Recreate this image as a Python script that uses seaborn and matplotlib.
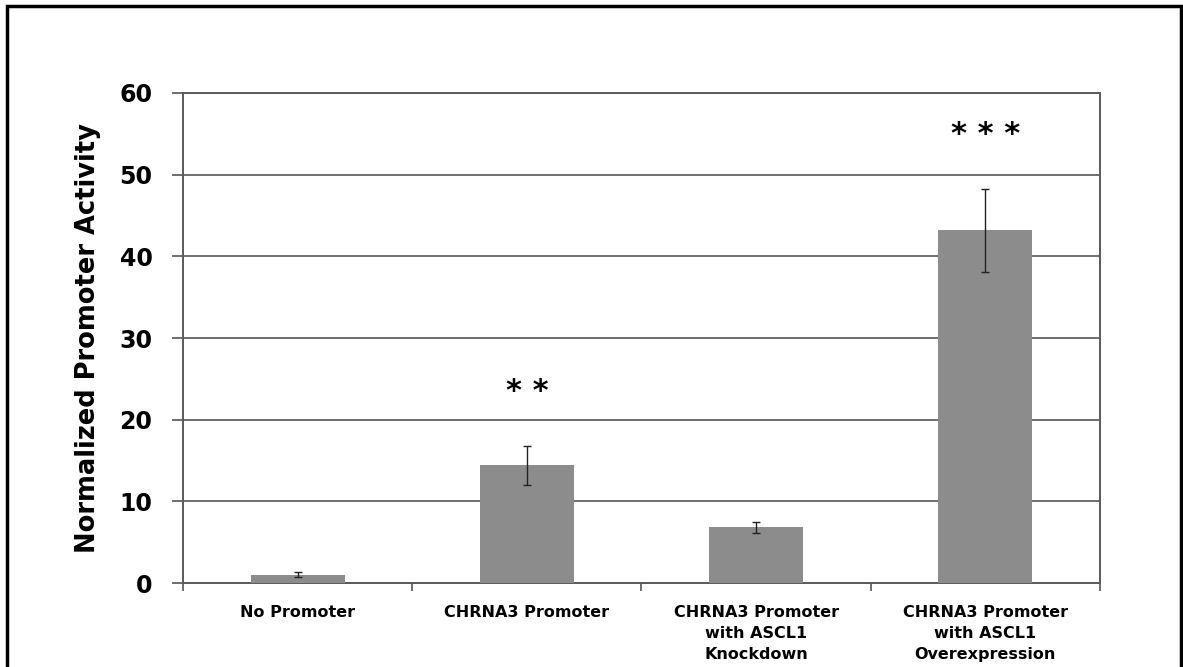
import matplotlib
matplotlib.use("Agg")
import matplotlib.pyplot as plt
from matplotlib.patches import Rectangle
from matplotlib.ticker import FixedLocator
import seaborn as sns
import pandas as pd
import numpy as np

# Luciferase reporter data
conditions = [
    "No Promoter",
    "CHRNA3 Promoter",
    "CHRNA3 Promoter\nwith ASCL1\nKnockdown",
    "CHRNA3 Promoter\nwith ASCL1\nOverexpression",
]
activity = [1.0, 14.4, 6.8, 43.2]
activity_err = [0.3, 2.4, 0.7, 5.1]
significance = ["", "* *", "", "* * *"]
yticks = [0, 10, 20, 30, 40, 50, 60]

sns.set_theme(style="white")
plt.rcParams["font.family"] = ["DejaVu Sans"]

fig = plt.figure(figsize=(11.83, 6.67), dpi=100)
ax = fig.add_axes([0.1547, 0.1259, 0.7751, 0.7347])

df = pd.DataFrame({"condition": conditions, "activity": activity})
sns.barplot(data=df, x="condition", y="activity", color="#8c8c8c",
            saturation=1, width=0.41, errorbar=None, ax=ax, zorder=3,
            edgecolor="none")

xpos = np.arange(len(conditions))
ax.errorbar(xpos, activity, yerr=activity_err, fmt="none", ecolor="#222222",
            elinewidth=1.0, capsize=3, capthick=1.0, zorder=4)

for x, y, e, s in zip(xpos, activity, activity_err, significance):
    if s:
        ax.text(x, y + e + 6.6, s, ha="center", va="center",
                fontsize=22, fontweight="bold", color="black")

ax.set_ylim(0, 60)
ax.set_xlim(-0.5, len(conditions) - 0.5)
ax.set_yticks(yticks)
ax.set_yticklabels([str(t) for t in yticks], fontsize=17, fontweight="bold",
                   color="black")
ax.yaxis.grid(True, color="#6e6e6e", linewidth=1.4, zorder=0)
ax.set_axisbelow(True)

ax.set_xticks(xpos)
ax.set_xticklabels(conditions, fontsize=11.5, fontweight="bold",
                   linespacing=1.5, color="black")
ax.xaxis.set_minor_locator(FixedLocator(np.arange(-0.5, len(conditions), 1.0)))
ax.tick_params(axis="x", which="major", length=0, pad=16)
ax.tick_params(axis="x", which="minor", length=6, width=1.2,
               color="#555555", direction="out", bottom=True)
ax.tick_params(axis="y", length=8, width=1.2, color="#555555",
               direction="out", left=True, pad=14)

ax.set_xlabel("")
ax.set_ylabel("Normalized Promoter Activity", fontsize=18.5,
              fontweight="bold", labelpad=13, color="black")

for side in ["left", "right", "top", "bottom"]:
    ax.spines[side].set_visible(True)
    ax.spines[side].set_color("#5a5a5a")
    ax.spines[side].set_linewidth(1.4)

# outer frame around the figure
fig.patches.append(Rectangle((7 / 1183, -0.05), 1174 / 1183, 1.05 - 6 / 667,
                             transform=fig.transFigure, fill=False,
                             edgecolor="black", linewidth=2.5))

fig.savefig("out.png", dpi=100, facecolor="white")
